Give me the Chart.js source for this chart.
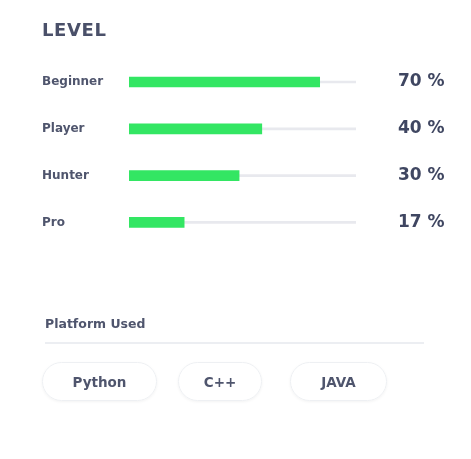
<!DOCTYPE html>
<html><head><meta charset="utf-8">
<script src="https://cdn.jsdelivr.net/npm/chart.js@4/dist/chart.umd.min.js"></script>
<style>
html,body{margin:0;padding:0;background:#fff;width:471px;height:459px;overflow:hidden;font-family:"DejaVu Sans",sans-serif;}
#wrap{position:relative;width:471px;height:459px;}
#c{position:absolute;left:0;top:0;}
.title{position:absolute;left:42px;top:19px;font:700 18px "DejaVu Sans",sans-serif;color:#4a5069;letter-spacing:0.6px;}
.sub{position:absolute;left:45px;top:316px;font:700 12.5px "DejaVu Sans",sans-serif;color:#4f556d;}
.rule{position:absolute;left:45px;top:342px;width:379px;height:2px;background:#eceef2;}
.pill{position:absolute;top:362px;height:39px;border:1px solid #eef0f3;border-radius:20px;box-shadow:0 1px 3px rgba(0,0,0,0.05);font:700 13.5px "DejaVu Sans",sans-serif;color:#4f556d;display:flex;align-items:center;justify-content:center;box-sizing:border-box;}
</style></head>
<body><div id="wrap">
<canvas id="c" width="471" height="459"></canvas>
<div class="title">LEVEL</div>
<div class="sub">Platform Used</div>
<div class="rule"></div>
<div class="pill" style="left:42px;width:115px;">Python</div>
<div class="pill" style="left:178px;width:84px;">C++</div>
<div class="pill" style="left:290px;width:97px;">JAVA</div>
</div>
<script>
const categories = ["Beginner", "Player", "Hunter", "Pro"];
const barValues = [84, 58.5, 48.5, 24.3];
const percentLabels = ["70 %", "40 %", "30 %", "17 %"];
const trackValues = [100, 100, 100, 100];

const valueLabelPlugin = {
  id: 'valueLabels',
  afterDatasetsDraw(chart) {
    const ctx = chart.ctx;
    const meta = chart.getDatasetMeta(0);
    ctx.save();
    ctx.font = '700 17px "DejaVu Sans", sans-serif';
    ctx.fillStyle = '#3f4661';
    ctx.textAlign = 'left';
    ctx.textBaseline = 'middle';
    meta.data.forEach((bar, i) => {
      ctx.fillText(percentLabels[i], 398, bar.y);
    });
    ctx.restore();
  }
};

new Chart(document.getElementById('c'), {
  type: 'bar',
  data: {
    labels: categories,
    datasets: [
      { data: barValues, backgroundColor: '#33e663', barThickness: 10, borderSkipped: false },
      { data: trackValues, backgroundColor: '#e8e9ee', barThickness: 2 }
    ]
  },
  options: {
    indexAxis: 'y',
    responsive: false,
    animation: false,
    devicePixelRatio: 1,
    layout: { padding: { left: 42, right: 115, top: 58.6, bottom: 213.2 } },
    plugins: { legend: { display: false }, tooltip: { enabled: false } },
    datasets: { bar: { grouped: false } },
    scales: {
      x: { min: 0, max: 100, display: false },
      y: {
        grid: { display: false },
        border: { display: false },
        ticks: { crossAlign: 'far', padding: 0, color: '#4f556d', font: { family: '"DejaVu Sans", sans-serif', size: 12, weight: '700' } },
        afterFit(scale) { scale.width = 87; }
      }
    }
  },
  plugins: [valueLabelPlugin]
});
</script>
</body></html>
